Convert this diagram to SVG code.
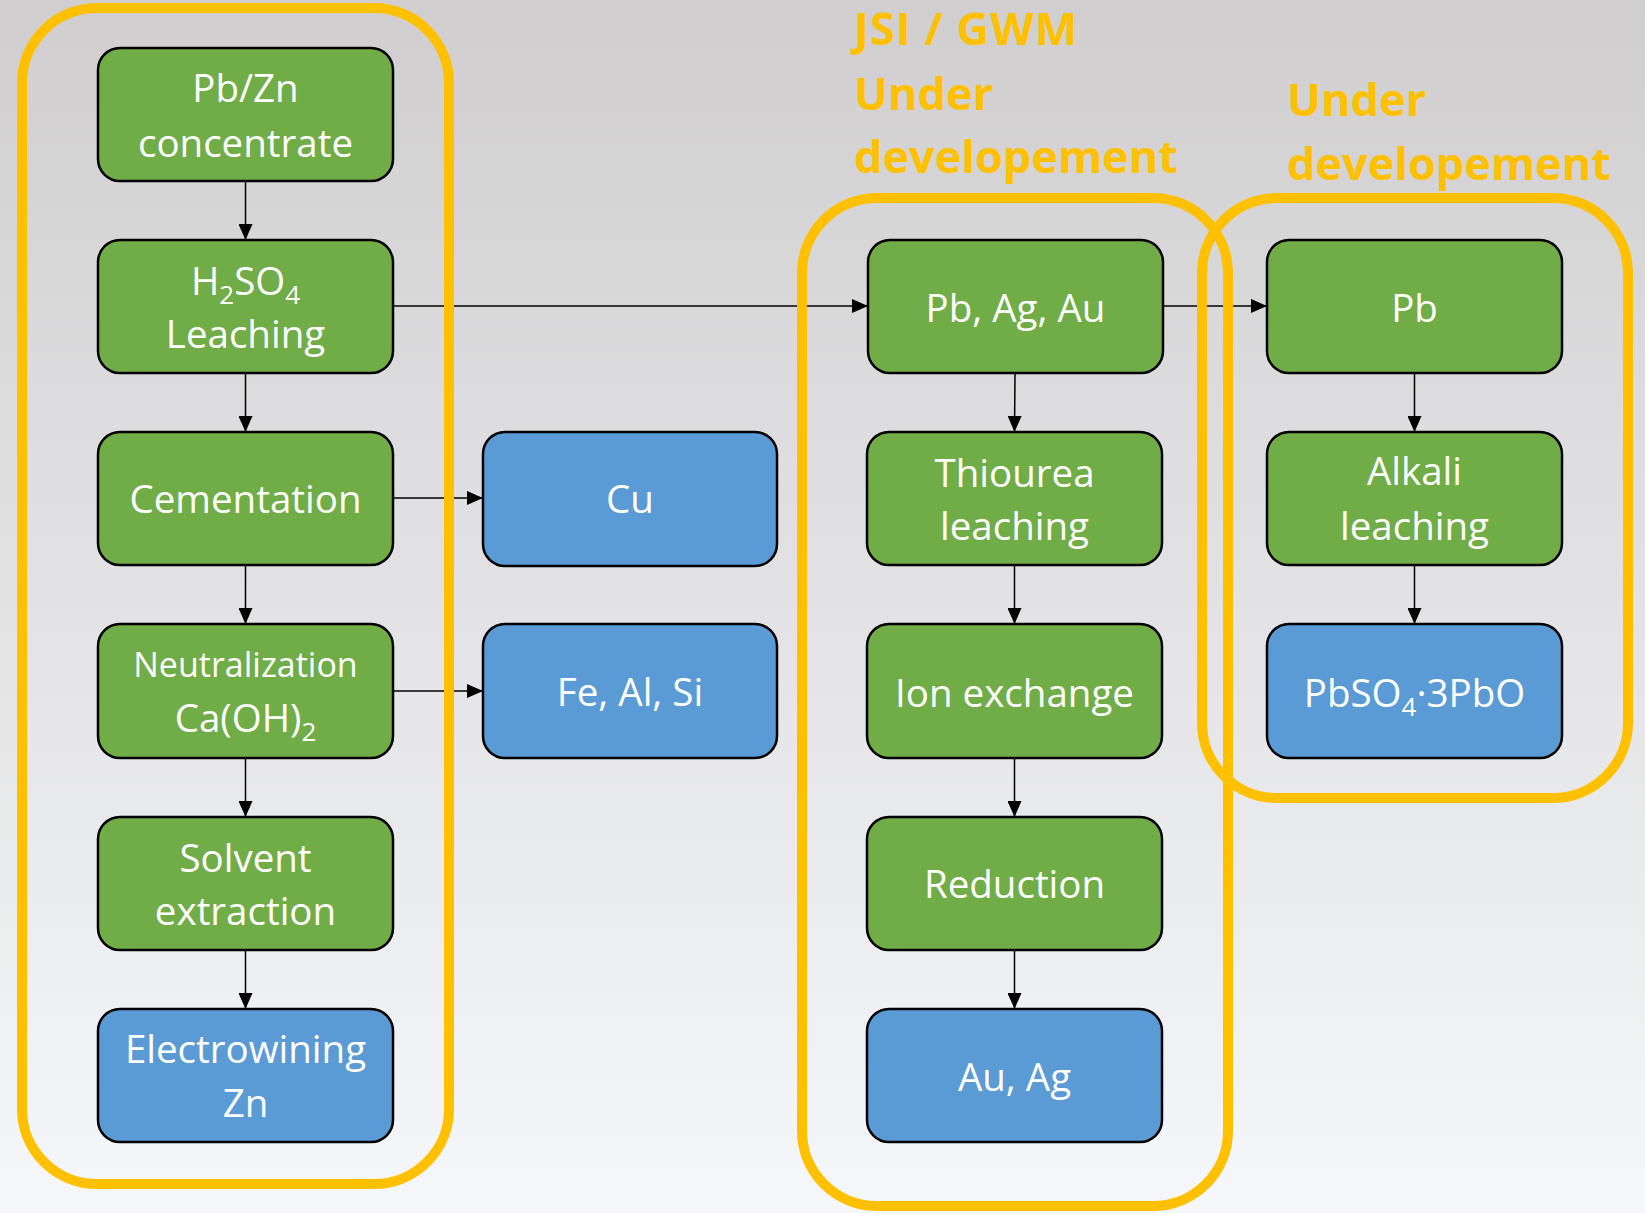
<svg xmlns="http://www.w3.org/2000/svg" width="1645" height="1213" viewBox="0 0 1645 1213">
<defs>
<linearGradient id="bg" x1="0" y1="0" x2="0" y2="1">
<stop offset="0" stop-color="#D0CECF"/>
<stop offset="1" stop-color="#F5F7FA"/>
</linearGradient>
<marker id="arr" markerWidth="16" markerHeight="14" refX="16" refY="7" orient="auto" markerUnits="userSpaceOnUse">
<path d="M0,0 L16,7 L0,14 z" fill="#000"/>
</marker>
<style>
.g{fill:#70AD47;stroke:#000;stroke-width:2.5}
.b{fill:#5B9BD5;stroke:#000;stroke-width:2.5}
.t{fill:#fff;font-family:"Open Sans","DejaVu Sans",sans-serif;font-size:38.5px;text-anchor:middle}
.s{font-size:34px}
.c{stroke:#000;stroke-width:1.5;fill:none;marker-end:url(#arr)}
.f{fill:none;stroke:#FFC000;stroke-width:10}
.lbl{fill:#FFC000;font-family:"Open Sans","DejaVu Sans",sans-serif;font-size:45px;font-weight:bold}
</style>
</defs>
<rect width="1645" height="1213" fill="url(#bg)"/>

<g id="connectors">
<line class="c" x1="245.5" y1="181" x2="245.5" y2="240"/>
<line class="c" x1="245.5" y1="373" x2="245.5" y2="432"/>
<line class="c" x1="245.5" y1="565" x2="245.5" y2="624"/>
<line class="c" x1="245.5" y1="758" x2="245.5" y2="817"/>
<line class="c" x1="245.5" y1="950" x2="245.5" y2="1009"/>
<line class="c" x1="393" y1="306" x2="868" y2="306"/>
<line class="c" x1="1163" y1="306" x2="1267" y2="306"/>
<line class="c" x1="393" y1="498" x2="483" y2="498"/>
<line class="c" x1="393" y1="691" x2="483" y2="691"/>
<line class="c" x1="1015" y1="373" x2="1014.5" y2="432"/>
<line class="c" x1="1014.5" y1="565" x2="1014.5" y2="624"/>
<line class="c" x1="1014.5" y1="758" x2="1014.5" y2="817"/>
<line class="c" x1="1014.5" y1="950" x2="1014.5" y2="1009"/>
<line class="c" x1="1414.5" y1="373" x2="1414.5" y2="432"/>
<line class="c" x1="1414.5" y1="565" x2="1414.5" y2="624"/>
</g>

<g id="frames">
<rect class="f" x="22" y="8" width="427" height="1176" rx="75" ry="75"/>
<rect class="f" x="802" y="198" width="426" height="1008" rx="75" ry="75"/>
<rect class="f" x="1202" y="198" width="426" height="600" rx="75" ry="75"/>
</g>

<g id="labels">
<text class="lbl" x="854" y="45" letter-spacing="1">JSI / GWM</text>
<text class="lbl" x="854" y="110">Under</text>
<text class="lbl" x="854" y="173">developement</text>
<text class="lbl" x="1287" y="116">Under</text>
<text class="lbl" x="1287" y="180">developement</text>
</g>

<g id="n-pbzn"><rect class="g" x="98" y="48" width="295" height="133" rx="22"/>
<text class="t" x="245.5" y="102">Pb/Zn</text><text class="t" x="245.5" y="157">concentrate</text></g>
<g id="n-h2so4"><rect class="g" x="98" y="240" width="295" height="133" rx="22"/>
<text class="t" x="245.5" y="295">H<tspan font-size="26" dy="9">2</tspan><tspan dy="-9">SO</tspan><tspan font-size="26" dy="9">4</tspan></text>
<text class="t" x="245.5" y="348">Leaching</text></g>
<g id="n-cementation"><rect class="g" x="98" y="432" width="295" height="133" rx="22"/>
<text class="t" x="245.5" y="513">Cementation</text></g>
<g id="n-neutralization"><rect class="g" x="98" y="624" width="295" height="134" rx="22"/>
<text class="t s" x="245.5" y="677">Neutralization</text>
<text class="t" x="245.5" y="732">Ca(OH)<tspan font-size="26" dy="9">2</tspan></text></g>
<g id="n-solvent"><rect class="g" x="98" y="817" width="295" height="133" rx="22"/>
<text class="t" x="245.5" y="872">Solvent</text><text class="t" x="245.5" y="925">extraction</text></g>
<g id="n-electrowining"><rect class="b" x="98" y="1009" width="295" height="133" rx="22"/>
<text class="t" x="245.5" y="1063">Electrowining</text><text class="t" x="245.5" y="1117">Zn</text></g>

<g id="n-cu"><rect class="b" x="483" y="432" width="294" height="134" rx="22"/>
<text class="t" x="630" y="513">Cu</text></g>
<g id="n-fealsi"><rect class="b" x="483" y="624" width="294" height="134" rx="22"/>
<text class="t" x="630" y="706">Fe, Al, Si</text></g>

<g id="n-pbagau"><rect class="g" x="868" y="240" width="295" height="133" rx="22"/>
<text class="t" x="1015.5" y="322">Pb, Ag, Au</text></g>
<g id="n-thiourea"><rect class="g" x="867" y="432" width="295" height="133" rx="22"/>
<text class="t" x="1014.5" y="487">Thiourea</text><text class="t" x="1014.5" y="540">leaching</text></g>
<g id="n-ion"><rect class="g" x="867" y="624" width="295" height="134" rx="22"/>
<text class="t" x="1014.5" y="707">Ion exchange</text></g>
<g id="n-reduction"><rect class="g" x="867" y="817" width="295" height="133" rx="22"/>
<text class="t" x="1014.5" y="898">Reduction</text></g>
<g id="n-auag"><rect class="b" x="867" y="1009" width="295" height="133" rx="22"/>
<text class="t" x="1014.5" y="1091">Au, Ag</text></g>

<g id="n-pb"><rect class="g" x="1267" y="240" width="295" height="133" rx="22"/>
<text class="t" x="1414.5" y="322">Pb</text></g>
<g id="n-alkali"><rect class="g" x="1267" y="432" width="295" height="133" rx="22"/>
<text class="t" x="1414.5" y="485">Alkali</text><text class="t" x="1414.5" y="540">leaching</text></g>
<g id="n-pbso4"><rect class="b" x="1267" y="624" width="295" height="134" rx="22"/>
<text class="t" x="1414.5" y="707">PbSO<tspan font-size="26" dy="9">4</tspan><tspan dy="-9">·3PbO</tspan></text></g>
</svg>
